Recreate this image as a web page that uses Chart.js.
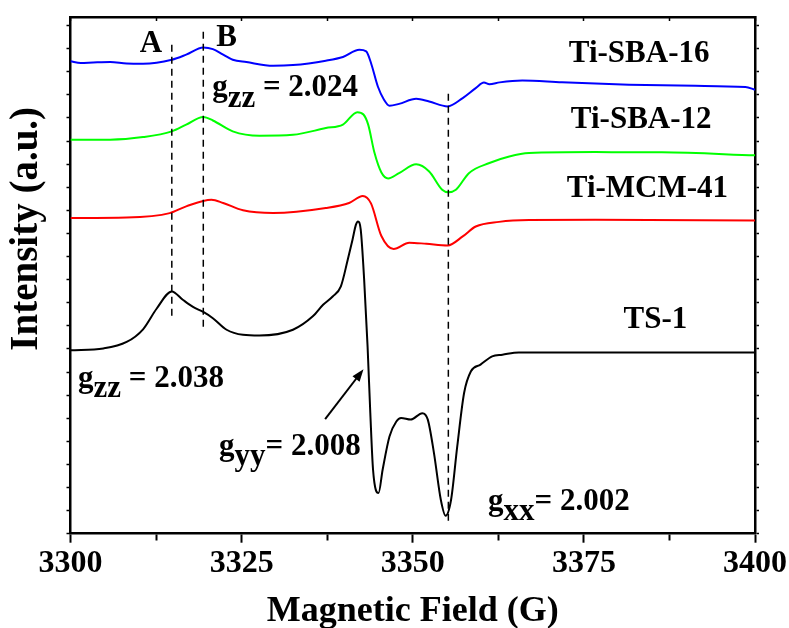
<!DOCTYPE html>
<html lang="en">
<head>
  <meta charset="UTF-8">
  <title>EPR spectra of Ti samples</title>
  <script src="https://cdn.jsdelivr.net/npm/chart.js"></script>
  <style>
    body { margin: 0; background: #fff; }
    #epr { display: block; }
  </style>
</head>
<body>
  <canvas id="epr" width="789" height="628"></canvas>
  <script>
    // magnetic field (G) and intensity (a.u., spectra offset vertically)
    const fieldSBA16 = [3300, 3301.5, 3303.3, 3305.8, 3308.2, 3310.6, 3314.8, 3316.9, 3319.4, 3320.8, 3322.3, 3323.7, 3325.7, 3329.6, 3332.5, 3337.3, 3339.8, 3342.2, 3343.2, 3343.9, 3344.9, 3345.8, 3346.6, 3348.0, 3350.5, 3352.4, 3355.1, 3357.3, 3359.2, 3360.4, 3361.2, 3362.7, 3366.0, 3371.8, 3381.6, 3391.3, 3398.6, 3400];
    const intSBA16   = [20.45, 20.38, 20.40, 20.42, 20.36, 20.35, 20.52, 20.74, 21.05, 20.98, 20.74, 20.52, 20.42, 20.26, 20.29, 20.48, 20.64, 20.95, 20.88, 20.38, 19.36, 18.79, 18.53, 18.61, 18.83, 18.71, 18.50, 18.86, 19.29, 19.53, 19.46, 19.54, 19.62, 19.54, 19.44, 19.39, 19.34, 19.22];

    const fieldSBA12 = [3300, 3305.8, 3310.6, 3314.8, 3316.9, 3319.4, 3320.8, 3323.7, 3327.6, 3332.5, 3337.3, 3339.8, 3341.9, 3342.8, 3343.5, 3344.4, 3345.4, 3346.4, 3348.0, 3350.5, 3352.4, 3354.3, 3355.2, 3356.3, 3358.2, 3361.2, 3364.1, 3367.0, 3376.7, 3386.4, 3400];
    const intSBA12   = [17.06, 17.06, 17.17, 17.42, 17.71, 18.04, 17.89, 17.42, 17.23, 17.27, 17.56, 17.71, 18.25, 18.15, 17.70, 16.50, 15.65, 15.38, 15.61, 15.99, 15.68, 14.89, 14.78, 14.89, 15.61, 16.05, 16.33, 16.48, 16.52, 16.51, 16.38];

    const fieldMCM41 = [3300, 3308.2, 3314.5, 3316.9, 3320.6, 3322.3, 3325.2, 3329.6, 3337.3, 3340.7, 3342.7, 3343.9, 3345.4, 3347.2, 3349.5, 3352.0, 3355.1, 3357.3, 3359.2, 3362.6, 3367.0, 3376.7, 3400];
    const intMCM41   = [13.67, 13.69, 13.88, 14.17, 14.46, 14.32, 14.00, 13.88, 14.10, 14.32, 14.62, 14.30, 12.90, 12.33, 12.60, 12.55, 12.48, 12.87, 13.30, 13.50, 13.58, 13.59, 13.56];

    const fieldTS1 = [3300, 3304.8, 3308.2, 3310.6, 3312.6, 3314.8, 3316.4, 3317.9, 3319.4, 3320.8, 3322.8, 3325.2, 3327.6, 3332.5, 3335.4, 3336.9, 3338.3, 3339.5, 3340.5, 3341.2, 3341.7, 3342.0, 3342.4, 3342.9, 3343.4, 3343.8, 3344.2, 3345.0, 3345.6, 3346.6, 3347.6, 3348.3, 3349.7, 3351.4, 3352.2, 3353.1, 3354.1, 3354.8, 3355.6, 3356.5, 3357.5, 3358.5, 3359.9, 3361.6, 3363.1, 3365.5, 3400];
    const intTS1   = [7.94, 8.02, 8.30, 8.85, 9.75, 10.49, 10.13, 9.82, 9.60, 9.33, 8.83, 8.61, 8.58, 8.83, 9.41, 9.91, 10.27, 10.71, 11.86, 12.73, 13.38, 13.52, 13.16, 11.00, 8.11, 5.22, 2.77, 1.76, 2.77, 4.21, 4.86, 5.01, 4.94, 5.22, 4.94, 3.49, 1.47, 0.78, 1.47, 3.78, 6.09, 7.03, 7.32, 7.68, 7.75, 7.85, 7.85];

    // dashed guide lines (A, B and the high-field minimum)
    const guideField = [3314.8, 3319.4, 3355.2];
    const guideTop   = [21.17, 21.73, 19.05];
    const guideBot   = [9.39, 8.83, 0.39];

    const xTicks = [3300, 3325, 3350, 3375, 3400];

    const serif = "'Liberation Serif', 'Times New Roman', serif";

    function pts(xs, ys) {
      return xs.map((x, i) => ({ x: x, y: ys[i] }));
    }

    function curve(xs, ys, color) {
      return {
        data: pts(xs, ys),
        borderColor: color,
        borderWidth: 2,
        pointRadius: 0,
        cubicInterpolationMode: 'monotone'
      };
    }

    const guides = guideField.map((f, i) => ({
      data: pts([f, f], [guideTop[i], guideBot[i]]),
      borderColor: '#000',
      borderWidth: 1.5,
      borderDash: [7, 5],
      pointRadius: 0
    }));

    // text labels placed in data units, parts = [text, baseline shift px]
    const notes = [
      { x: 3310.1, y: 20.86, parts: [['A', 0]] },
      { x: 3321.3, y: 21.10, parts: [['B', 0]] },
      { x: 3320.7, y: 18.93, parts: [['g', 0], ['zz', 11], [' = 2.024', 0]] },
      { x: 3372.8, y: 20.43, parts: [['Ti-SBA-16', 0]] },
      { x: 3373.1, y: 17.55, parts: [['Ti-SBA-12', 0]] },
      { x: 3372.5, y: 14.59, parts: [['Ti-MCM-41', 0]] },
      { x: 3380.8, y: 8.89, parts: [['TS-1', 0]] },
      { x: 3301.1, y: 6.36, parts: [['g', 0], ['zz', 10], [' = 2.038', 0]] },
      { x: 3321.7, y: 3.41, parts: [['g', 0], ['yy', 10], ['= 2.008', 0]] },
      { x: 3361.0, y: 1.03, parts: [['g', 0], ['xx', 10], ['= 2.002', 0]] }
    ];
    const arrowFrom = [3337.2, 4.96];
    const arrowTo   = [3342.8, 7.12];

    const notesPlugin = {
      id: 'notes',
      afterDatasetsDraw(chart) {
        const { ctx, scales: { x, y } } = chart;
        ctx.save();
        ctx.fillStyle = '#000';
        ctx.font = `bold 31px ${serif}`;
        ctx.textBaseline = 'alphabetic';
        ctx.textAlign = 'left';
        notes.forEach(n => {
          let px = x.getPixelForValue(n.x);
          const py = y.getPixelForValue(n.y);
          n.parts.forEach(([t, shift]) => {
            ctx.fillText(t, px, py + shift);
            px += ctx.measureText(t).width;
          });
        });

        // arrow pointing at g_yy
        const x1 = x.getPixelForValue(arrowFrom[0]), y1 = y.getPixelForValue(arrowFrom[1]);
        const x2 = x.getPixelForValue(arrowTo[0]), y2 = y.getPixelForValue(arrowTo[1]);
        const ang = Math.atan2(y2 - y1, x2 - x1);
        const head = 13;
        ctx.strokeStyle = '#000';
        ctx.lineWidth = 2;
        ctx.beginPath();
        ctx.moveTo(x1, y1);
        ctx.lineTo(x2 - Math.cos(ang) * head * 0.8, y2 - Math.sin(ang) * head * 0.8);
        ctx.stroke();
        ctx.beginPath();
        ctx.moveTo(x2, y2);
        ctx.lineTo(x2 - head * Math.cos(ang - 0.35), y2 - head * Math.sin(ang - 0.35));
        ctx.lineTo(x2 - head * Math.cos(ang + 0.35), y2 - head * Math.sin(ang + 0.35));
        ctx.closePath();
        ctx.fill();

        // y axis title, set a little above the middle of the axis
        ctx.translate(27, y.getPixelForValue(13.2));
        ctx.rotate(-Math.PI / 2);
        ctx.font = `bold 39px ${serif}`;
        ctx.textAlign = 'center';
        ctx.textBaseline = 'middle';
        ctx.fillText('Intensity (a.u.)', 0, 0);
        ctx.restore();
      }
    };

    const axisBorder = { display: true, color: '#000', width: 2.5 };

    new Chart(document.getElementById('epr'), {
      type: 'line',
      data: {
        datasets: [
          ...guides,
          curve(fieldSBA16, intSBA16, '#0000ff'),
          curve(fieldSBA12, intSBA12, '#00ff00'),
          curve(fieldMCM41, intMCM41, '#ff0000'),
          curve(fieldTS1, intTS1, '#000000')
        ]
      },
      options: {
        responsive: false,
        animation: false,
        layout: { padding: 0 },
        plugins: { legend: { display: false }, tooltip: { enabled: false } },
        scales: {
          x: {
            type: 'linear',
            position: 'bottom',
            min: 3300,
            max: 3400,
            afterFit(s) { s.height = 94.3; },
            ticks: {
              stepSize: 12.5,
              autoSkip: false,
              maxRotation: 0,
              padding: 2,
              color: '#000',
              font: { family: serif, size: 32, weight: 'bold' },
              callback: v => xTicks.includes(v) ? String(v) : ''
            },
            grid: {
              drawOnChartArea: false,
              tickLength: 9,
              tickWidth: 2,
              tickColor: '#000',
              tickBorderDash: c => (c.tick && !xTicks.includes(c.tick.value)) ? [6, 40] : []
            },
            border: axisBorder,
            title: {
              display: true,
              text: 'Magnetic Field (G)',
              color: '#000',
              font: { family: serif, size: 36, weight: 'bold', lineHeight: 1 },
              padding: { top: 0, bottom: -2 }
            }
          },
          xTop: {
            type: 'linear',
            position: 'top',
            min: 3300,
            max: 3400,
            afterFit(s) { s.height = 17; },
            ticks: { display: false, stepSize: 12.5, includeBounds: false },
            grid: { drawOnChartArea: false, tickLength: -4, tickWidth: 1.5, tickColor: '#000' },
            border: axisBorder
          },
          y: {
            type: 'linear',
            position: 'left',
            min: 0,
            max: 22.37,
            afterFit(s) { s.width = 70.5; },
            ticks: { display: false, stepSize: 1, includeBounds: false },
            grid: { drawOnChartArea: false, tickLength: 4, tickWidth: 1.5, tickColor: '#000' },
            border: axisBorder
          },
          yRight: {
            type: 'linear',
            position: 'right',
            min: 0,
            max: 22.37,
            afterFit(s) { s.width = 32.5; },
            ticks: { display: false, stepSize: 1, includeBounds: false },
            grid: { drawOnChartArea: false, tickLength: 4, tickWidth: 1.5, tickColor: '#000' },
            border: axisBorder
          }
        }
      },
      plugins: [notesPlugin]
    });
  </script>
</body>
</html>
